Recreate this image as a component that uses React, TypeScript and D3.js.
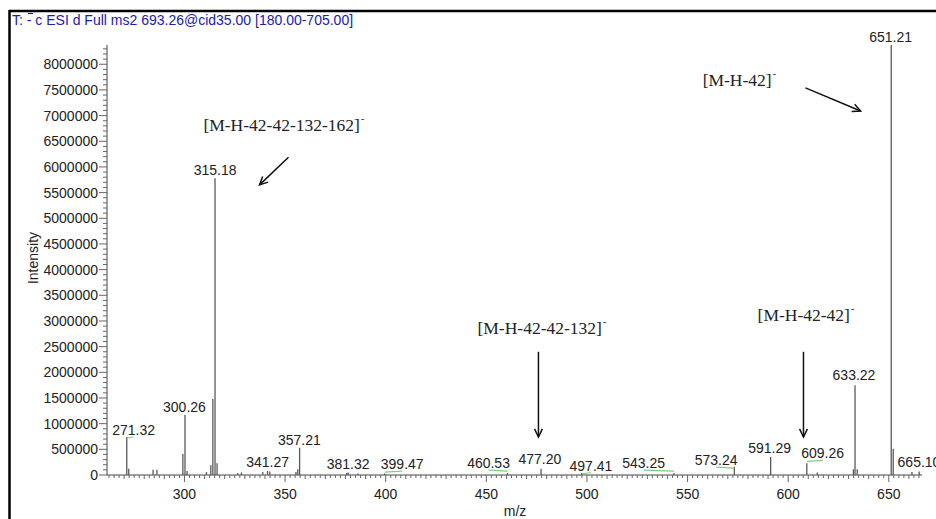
import { useRef, useEffect } from 'react';
import * as d3 from 'd3';

// spectrum sticks: m/z and intensity
const peakMz = [271.32, 272.3, 284.4, 286.3, 299.2, 300.26, 301.3, 310.9, 313.1, 314.1, 315.18, 316.2,
  326.5, 328.3, 338.9, 341.27, 342.4, 355.4, 356.3, 357.21, 380.6, 381.32, 386.2, 399.47, 460.53,
  477.20, 497.41, 543.25, 573.24, 591.29, 609.26, 614.5, 632.4, 633.22, 634.3, 651.21, 652.2, 661.5, 665.10];
const peakInt = [740000, 120000, 100000, 100000, 410000, 1170000, 80000, 60000, 190000, 1480000, 5780000, 230000,
  40000, 50000, 60000, 80000, 70000, 60000, 110000, 530000, 40000, 50000, 30000, 30000, 40000,
  120000, 40000, 40000, 160000, 350000, 230000, 50000, 110000, 1750000, 110000, 8375000, 510000, 60000, 70000];

// labelled peaks with where the label sits
const labelText = ['271.32', '300.26', '315.18', '341.27', '357.21', '381.32', '399.47', '460.53', '477.20',
  '497.41', '543.25', '573.24', '591.29', '609.26', '633.22', '651.21', '665.10'];
const labelMz = [274.7, 300.0, 315.2, 341.3, 357.1, 381.3, 408.2, 451.1, 476.6, 502.0, 528.2, 564.2,
  590.8, 617.1, 632.7, 650.9, 665.0];
const labelInt = [876000, 1330000, 5940000, 260000, 680000, 210000, 210000, 230000, 310000, 180000, 230000,
  290000, 530000, 420000, 1950000, 8540000, 250000];

// fragment annotations
const annText = ['[M-H-42]', '[M-H-42-42-132-162]', '[M-H-42-42-132]', '[M-H-42-42]'];
const annMz = [557.5, 309.4, 445.6, 584.8];
const annInt = [7690000, 6820000, 2860000, 3120000];
const arrowFrom = [[608.6, 7540000], [351.7, 6190000], [475.9, 2400000], [607.6, 2400000]];
const arrowTo = [[636.0, 7090000], [337.3, 5650000], [475.9, 740000], [607.6, 740000]];

const yTicks = d3.range(0, 8000001, 500000);
const xTicks = [300, 350, 400, 450, 500, 550, 600, 650];

export default function App() {
  const svgRef = useRef(null);
  const width = 936;
  const height = 519;

  useEffect(() => {
    const svg = d3.select(svgRef.current);
    svg.selectAll('*').remove();

    const x = d3.scaleLinear().domain([261.5, 666.5]).range([107, 922]);
    const y = d3.scaleLinear().domain([0, 8375000]).range([475, 45]);
    const sans = 'Liberation Sans, Arial, sans-serif';

    // frame
    svg.append('line').attr('x1', 9.5).attr('x2', 9.5).attr('y1', 10).attr('y2', height)
      .attr('stroke', '#000').attr('stroke-width', 2.5);
    svg.append('line').attr('x1', 9).attr('x2', width).attr('y1', 11).attr('y2', 11)
      .attr('stroke', '#000').attr('stroke-width', 2.5);

    svg.append('text').attr('x', 12).attr('y', 25)
      .attr('font-family', sans).attr('font-size', 14).attr('fill', '#2020b0')
      .text('T: - c ESI d Full ms2 693.26@cid35.00 [180.00-705.00]');
    svg.append('line').attr('x1', 28).attr('x2', 33).attr('y1', 13.5).attr('y2', 13.5)
      .attr('stroke', '#2020b0').attr('stroke-width', 1.2);

    // y axis
    const yAx = svg.append('g');
    yAx.append('line').attr('x1', 107).attr('x2', 107).attr('y1', y(8375000)).attr('y2', y(0))
      .attr('stroke', '#444');
    d3.range(0, 8375001, 100000).forEach(v => {
      const major = v % 500000 === 0;
      yAx.append('line').attr('x1', major ? 99 : 103).attr('x2', 107)
        .attr('y1', y(v)).attr('y2', y(v)).attr('stroke', '#666').attr('stroke-width', 1);
    });
    yTicks.forEach(v => {
      yAx.append('text').attr('x', 98).attr('y', y(v) + 5)
        .attr('text-anchor', 'end').attr('font-family', sans).attr('font-size', 14).attr('fill', '#222')
        .text(d3.format('d')(v));
    });
    svg.append('text').attr('transform', `translate(38,258) rotate(-90)`)
      .attr('text-anchor', 'middle').attr('font-family', sans).attr('font-size', 14).attr('fill', '#222')
      .text('Intensity');

    // x axis
    const xAx = svg.append('g');
    xAx.append('line').attr('x1', 107).attr('x2', 922).attr('y1', 475).attr('y2', 475).attr('stroke', '#444');
    d3.range(262.5, 666.5, 2.5).forEach(v => {
      const major = v % 50 === 0;
      const mid = v % 10 === 0;
      xAx.append('line').attr('x1', x(v)).attr('x2', x(v)).attr('y1', 475)
        .attr('y2', major ? 482 : mid ? 479 : 478).attr('stroke', '#666');
    });
    xTicks.forEach(v => {
      xAx.append('text').attr('x', x(v)).attr('y', 499)
        .attr('text-anchor', 'middle').attr('font-family', sans).attr('font-size', 14).attr('fill', '#222')
        .text(v);
    });
    svg.append('text').attr('x', 515).attr('y', 516)
      .attr('text-anchor', 'middle').attr('font-family', sans).attr('font-size', 14).attr('fill', '#222')
      .text('m/z');

    // sticks
    svg.append('g').selectAll('line').data(peakMz).join('line')
      .attr('x1', d => x(d)).attr('x2', d => x(d))
      .attr('y1', y(0)).attr('y2', (d, i) => y(peakInt[i]))
      .attr('stroke', '#5a5a5a').attr('stroke-width', 1.3);

    // peak labels and green leaders
    labelText.forEach((t, i) => {
      const mz = +t;
      const lx = x(labelMz[i]);
      const ly = y(labelInt[i]);
      if (Math.abs(lx - x(mz)) > 4) {
        svg.append('line').attr('x1', x(mz)).attr('y1', ly + 8)
          .attr('x2', lx).attr('y2', ly + 7)
          .attr('stroke', '#7ccf7c').attr('stroke-width', 1.2);
      }
      svg.append('text').attr('x', lx).attr('y', ly + 5)
        .attr('text-anchor', 'middle').attr('font-family', sans).attr('font-size', 14).attr('fill', '#222')
        .text(t);
    });

    // annotations
    annText.forEach((t, i) => {
      const txt = svg.append('text').attr('x', x(annMz[i])).attr('y', y(annInt[i]) + 6)
        .attr('font-family', 'Liberation Serif, Times New Roman, serif').attr('font-size', 17.5).attr('fill', '#222')
        .text(t);
      txt.append('tspan').attr('dx', 1).attr('dy', -9).attr('font-size', 10).text('-');

      const x1 = x(arrowFrom[i][0]);
      const y1 = y(arrowFrom[i][1]);
      const x2 = x(arrowTo[i][0]);
      const y2 = y(arrowTo[i][1]);
      svg.append('line').attr('x1', x1).attr('y1', y1).attr('x2', x2).attr('y2', y2)
        .attr('stroke', '#111').attr('stroke-width', 1.5);
      const a = Math.atan2(y2 - y1, x2 - x1);
      const head = 9;
      const spread = 0.45;
      const p = `M${x2 - head * Math.cos(a - spread)},${y2 - head * Math.sin(a - spread)}L${x2},${y2}L${x2 - head * Math.cos(a + spread)},${y2 - head * Math.sin(a + spread)}`;
      svg.append('path').attr('d', p).attr('fill', 'none').attr('stroke', '#111').attr('stroke-width', 1.5);
    });
  }, []);

  return (
    <svg ref={svgRef} width={width} height={height}
      style={{ position: 'absolute', left: 0, top: 0, background: '#fff' }}></svg>
  );
}
